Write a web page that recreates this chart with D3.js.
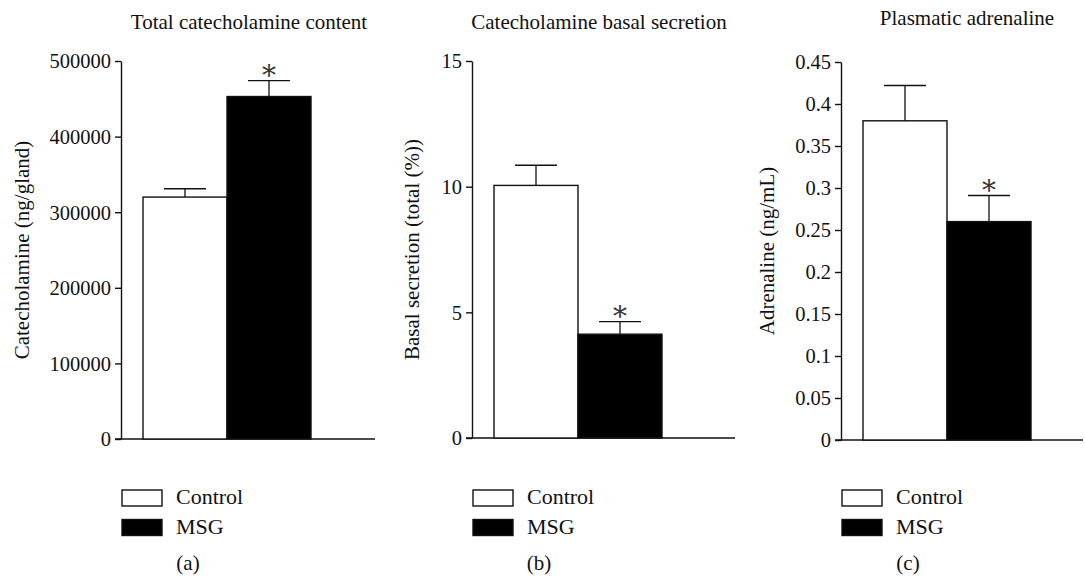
<!DOCTYPE html>
<html>
<head>
<meta charset="utf-8">
<script src="https://cdn.jsdelivr.net/npm/d3@7/dist/d3.min.js"></script>
<style>
  body { margin: 0; background: #fff; }
  svg text { font-family: "Liberation Serif", "Times New Roman", serif; fill: #111; }
</style>
</head>
<body>
<div id="chart"></div>
<script>
// data
var groups = ["Control", "MSG"];

var titles = ["Total catecholamine content", "Catecholamine basal secretion", "Plasmatic adrenaline"];
var yLabels = ["Catecholamine (ng/gland)", "Basal secretion (total (%))", "Adrenaline (ng/mL)"];
var panelTags = ["(a)", "(b)", "(c)"];

var contentMeans = [320000, 453000];
var contentErr = [11000, 21000];
var secretionMeans = [10.05, 4.13];
var secretionErr = [0.8, 0.5];
var adrenalineMeans = [0.38, 0.26];
var adrenalineErr = [0.042, 0.031];

var contentTicks = [0, 100000, 200000, 300000, 400000, 500000];
var secretionTicks = [0, 5, 10, 15];
var adrenalineTicks = [0, 0.05, 0.1, 0.15, 0.2, 0.25, 0.3, 0.35, 0.4, 0.45];
var adrenalineTickLabels = ["0", "0.05", "0.1", "0.15", "0.2", "0.25", "0.3", "0.35", "0.4", "0.45"];

var significant = [false, true]; // asterisk over MSG in every panel

var panels = [
  {means: contentMeans, err: contentErr, ticks: contentTicks, labels: contentTicks.map(String),
   ax: 121, y0: 439, yTop: 61, baseEnd: 375, titleX: 249, titleY: 29, ylabX: 22},
  {means: secretionMeans, err: secretionErr, ticks: secretionTicks, labels: secretionTicks.map(String),
   ax: 472, y0: 438, yTop: 61, baseEnd: 735, titleX: 599, titleY: 29, ylabX: 412},
  {means: adrenalineMeans, err: adrenalineErr, ticks: adrenalineTicks, labels: adrenalineTickLabels,
   ax: 841, y0: 440, yTop: 62, baseEnd: 1083, titleX: 967, titleY: 25, ylabX: 767}
];

var W = 1085, H = 577;
var serif = '"Liberation Serif", "Times New Roman", serif';
var svg = d3.select("#chart").append("svg")
  .attr("width", W).attr("height", H);

panels.forEach(function(p, i) {
  var g = svg.append("g");

  var x = d3.scaleBand().domain(groups).range([p.ax + 22, p.ax + 190]).padding(0);
  var y = d3.scaleLinear()
    .domain([0, p.ticks[p.ticks.length - 1]])
    .range([p.y0, p.yTop]);

  // title
  g.append("text")
   .attr("x", p.titleX).attr("y", p.titleY)
   .attr("text-anchor", "middle")
   .style("font-size", "21px")
   .text(titles[i]);

  // y axis
  var axis = d3.axisLeft(y)
    .tickValues(p.ticks)
    .tickFormat(function(d, k) { return p.labels[k]; })
    .tickSizeInner(6).tickSizeOuter(0).tickPadding(4);
  var ag = g.append("g")
    .attr("transform", "translate(" + p.ax + ",0)")
    .call(axis)
    .attr("font-family", null).attr("font-size", null);
  ag.selectAll("path, line").attr("stroke", "#111").attr("stroke-width", 1.4);
  ag.selectAll("text")
    .style("font-size", "20.5px")
    .style("font-family", serif)
    .attr("fill", "#111")
    .attr("dy", "0.34em");

  // baseline
  g.append("line")
   .attr("x1", p.ax - 6).attr("x2", p.baseEnd)
   .attr("y1", y(0)).attr("y2", y(0))
   .attr("stroke", "#111").attr("stroke-width", 1.4);

  // y label
  g.append("text")
   .attr("transform", "translate(" + p.ylabX + "," + ((p.y0 + p.yTop) / 2) + ") rotate(-90)")
   .attr("text-anchor", "middle")
   .attr("dy", "0.35em")
   .style("font-size", "21px")
   .text(yLabels[i]);

  // error bars (drawn first so bar top covers the stem)
  groups.forEach(function(gr, k) {
    var cx = x(gr) + x.bandwidth() / 2;
    var top = y(p.means[k] + p.err[k]);
    g.append("line")
     .attr("x1", cx).attr("x2", cx)
     .attr("y1", y(p.means[k])).attr("y2", top)
     .attr("stroke", "#222").attr("stroke-width", 1.4);
    g.append("line")
     .attr("x1", cx - 21).attr("x2", cx + 21)
     .attr("y1", top).attr("y2", top)
     .attr("stroke", "#111").attr("stroke-width", 1.4);
    if (significant[k]) {
      g.append("text")
       .attr("x", cx).attr("y", top + 4)
       .attr("text-anchor", "middle")
       .style("font-size", "28px")
       .style("fill", "#333")
       .style("font-family", '"DejaVu Serif", serif')
       .text("*");
    }
  });

  // bars
  g.selectAll(".bar")
   .data(groups)
   .enter().append("rect")
   .attr("class", "bar")
   .attr("x", function(d) { return x(d); })
   .attr("y", function(d, k) { return y(p.means[k]); })
   .attr("width", x.bandwidth())
   .attr("height", function(d, k) { return y(0) - y(p.means[k]); })
   .attr("fill", function(d, k) { return k === 0 ? "#fff" : "#000"; })
   .attr("stroke", "#111")
   .attr("stroke-width", 1.4);

  // legend
  var lg = g.append("g").attr("transform", "translate(" + (p.ax + 1) + ",490)");
  groups.forEach(function(gr, k) {
    lg.append("rect")
      .attr("x", 0).attr("y", k * 29.5)
      .attr("width", 40).attr("height", 16)
      .attr("fill", k === 0 ? "#fff" : "#000")
      .attr("stroke", "#111").attr("stroke-width", 1.4);
    lg.append("text")
      .attr("x", 54).attr("y", k * 30 + 14)
      .style("font-size", "22px")
      .text(gr);
  });

  g.append("text")
   .attr("x", p.ax + 67).attr("y", 570)
   .attr("text-anchor", "middle")
   .style("font-size", "21px")
   .text(panelTags[i]);
});
</script>
</body>
</html>
